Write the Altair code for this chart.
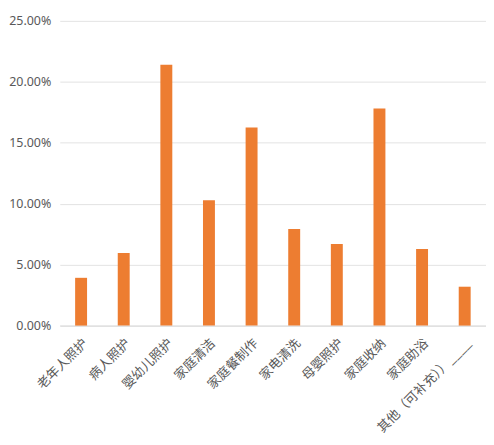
import altair as alt
import pandas as pd

categories = ["老年人照护", "病人照护", "婴幼儿照护", "家庭清洁", "家庭餐制作",
              "家电清洗", "母婴照护", "家庭收纳", "家庭助浴", "其他（可补充））____"]
values = [0.0392, 0.0596, 0.2140, 0.1029, 0.1626, 0.0792, 0.0670, 0.1781, 0.0629, 0.0319]

df = pd.DataFrame({"cat": categories, "val": values})

font = "Noto Sans CJK SC"

chart = alt.Chart(df).mark_bar(color="#ED7D31").encode(
    x=alt.X("cat:N", sort=categories, title=None,
            scale=alt.Scale(paddingInner=0.72, paddingOuter=0.36),
            axis=alt.Axis(labelAngle=-45, labelAlign="right", labelBaseline="top",
                          ticks=False, domainColor="#d9d9d9", labelColor="#595959",
                          labelFontSize=13, labelFont=font, labelPadding=11,
                          labelLimit=300)),
    y=alt.Y("val:Q", title=None,
            scale=alt.Scale(domain=[0, 0.25], nice=False),
            axis=alt.Axis(format=".2%", values=[0, 0.05, 0.10, 0.15, 0.20, 0.25],
                          domain=False, ticks=False, gridColor="#e3e3e3",
                          labelColor="#595959", labelFontSize=12.5, labelFont="Noto Sans",
                          labelPadding=9)),
).properties(
    width=428, height=306,
    autosize=alt.AutoSizeParams(type="none"),
    padding={"left": 52, "top": 12, "right": 0, "bottom": 125},
).configure_view(stroke=None)

chart.save("out.html", embed_options={"renderer": "svg", "actions": False})
